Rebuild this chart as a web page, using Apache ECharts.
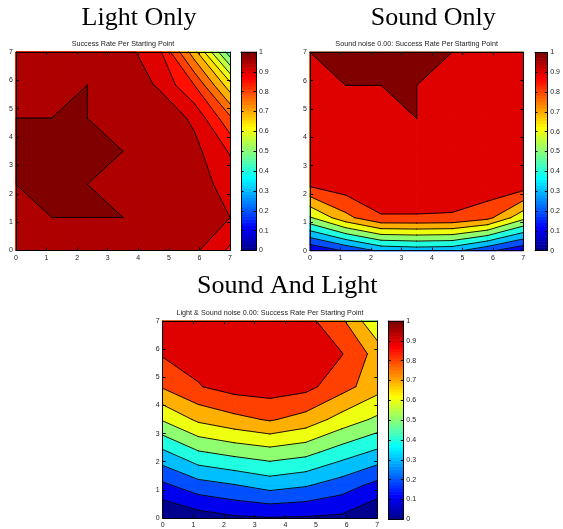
<!DOCTYPE html>
<html><head><meta charset="utf-8">
<script src="https://cdn.jsdelivr.net/npm/echarts@6/dist/echarts.min.js"></script>
<style>html,body{margin:0;padding:0;background:#fff}#c{width:563px;height:529px}</style>
</head><body><div id="c"></div>
<script>
// grid sample positions (x and y), 7 samples spanning 0..7
const xGrid = [0, 1.1667, 2.3333, 3.5, 4.6667, 5.8333, 7];
const yGrid = [0, 1.1667, 2.3333, 3.5, 4.6667, 5.8333, 7];
const axisTicks = [0, 1, 2, 3, 4, 5, 6, 7];
const colorbarTicks = [0, 0.1, 0.2, 0.3, 0.4, 0.5, 0.6, 0.7, 0.8, 0.9, 1];

// success rate per starting point, rows from y=0 (bottom) to y=7 (top)
const lightOnly = [
  [0.97, 0.98, 0.98, 0.98, 0.97, 0.96, 0.89],
  [0.98, 1, 1, 1, 0.98, 0.97, 0.95],
  [1, 1, 1, 0.98, 0.98, 0.973, 0.93],
  [1, 1, 1, 1, 0.98, 0.965, 0.895],
  [1, 1, 1, 0.98, 0.985, 0.94, 0.81],
  [0.98, 0.98, 1, 0.98, 0.945, 0.85, 0.67],
  [0.97, 0.97, 0.97, 0.97, 0.915, 0.72, 0.47]
];
const soundOnly = [
  [0.11, 0.21, 0.32, 0.34, 0.33, 0.22, 0.12],
  [0.59, 0.77, 0.89, 0.89, 0.885, 0.83, 0.63],
  [0.92, 0.96, 0.98, 0.98, 0.98, 0.97, 0.96],
  [0.95, 0.97, 0.98, 0.98, 0.98, 0.97, 0.95],
  [0.96, 0.97, 0.98, 1, 0.98, 1, 0.96],
  [0.97, 1, 1, 1, 0.98, 0.97, 0.96],
  [1, 1, 1, 1, 1, 0.98, 0.97]
];
const soundAndLight = [
  [0.0, 0.05, 0.085, 0.095, 0.09, 0.08, 0.0],
  [0.18, 0.26, 0.295, 0.34, 0.31, 0.25, 0.17],
  [0.38, 0.49, 0.53, 0.56, 0.53, 0.45, 0.38],
  [0.61, 0.72, 0.77, 0.81, 0.76, 0.66, 0.58],
  [0.81, 0.895, 0.94, 0.95, 0.93, 0.84, 0.74],
  [0.91, 0.93, 0.95, 0.96, 0.94, 0.905, 0.76],
  [0.93, 0.94, 0.95, 0.95, 0.934, 0.82, 0.61]
];
const lightLevels = [0.45, 0.5, 0.55, 0.6, 0.65, 0.7, 0.75, 0.8, 0.85, 0.9, 0.95, 1];
const soundLevels = [0, 0.1, 0.2, 0.3, 0.4, 0.5, 0.6, 0.7, 0.8, 0.9, 1];
const bothLevels = [0, 0.1, 0.2, 0.3, 0.4, 0.5, 0.6, 0.7, 0.8, 0.9, 1];
const panelTitles = ['Light Only', 'Sound Only', 'Sound And Light'];
const panelSubtitles = [
  'Success Rate Per Starting Point',
  'Sound noise 0.00: Success Rate Per Starting Point',
  'Light & Sound noise 0.00: Success Rate Per Starting Point'
];

// MATLAB jet(64) colormap row k (1..64)
function jet64(k) {
  const u = i => (i < 1 || i > 47) ? 0 : (i <= 16 ? i / 16 : (i <= 31 ? 1 : (48 - i) / 16));
  const c = [u(k - 24), u(k - 8), u(k + 8)].map(v => Math.round(v * 255));
  return 'rgb(' + c.join(',') + ')';
}
function levelColor(L) {
  const k = Math.min(64, Math.max(1, Math.floor(L * 64 + 1e-9) + 1));
  return jet64(k);
}

// filled contour shapes (marching squares with linear interpolation)
function contourShapes(z, levels) {
  const fills = [], lines = [];
  levels.forEach(L => {
    const color = levelColor(L);
    for (let j = 0; j < yGrid.length - 1; j++) {
      for (let i = 0; i < xGrid.length - 1; i++) {
        const c = [[i, j], [i + 1, j], [i + 1, j + 1], [i, j + 1]].map(([a, b]) => ({ x: xGrid[a], y: yGrid[b], v: z[b][a] }));
        const pts = [], exits = [];
        for (let k = 0; k < 4; k++) {
          const p = c[k], q = c[(k + 1) % 4];
          const pin = p.v >= L, qin = q.v >= L;
          if (pin) pts.push([p.x, p.y]);
          if (pin !== qin) {
            const t = (L - p.v) / (q.v - p.v);
            pts.push([p.x + t * (q.x - p.x), p.y + t * (q.y - p.y)]);
            if (pin) exits.push(pts.length - 1);
          }
        }
        if (pts.length >= 3) fills.push({ color, pts });
        exits.forEach(e => lines.push([pts[e], pts[(e + 1) % pts.length]]));
      }
    }
  });
  return { fills, lines };
}

const panels = [
  { z: lightOnly, levels: lightLevels, main: { left: 16, top: 52, width: 214, height: 198.5 }, bar: { left: 241, top: 52, width: 15, height: 198.5 }, tx: 139, ty: 18, sy: 44.5 },
  { z: soundOnly, levels: soundLevels, main: { left: 310, top: 52.3, width: 213.3, height: 198.4 }, bar: { left: 535, top: 52.3, width: 15, height: 198.4 }, tx: 433.3, ty: 18, sy: 44.5 },
  { z: soundAndLight, levels: bothLevels, main: { left: 162.7, top: 321, width: 214.6, height: 198.3 }, bar: { left: 388.3, top: 321, width: 15, height: 198.3 }, tx: 287.2, ty: 286.5, sy: 312.8 }
];

const grids = [], xAxes = [], yAxes = [], series = [], graphics = [];
const lineStyle = { color: '#000', width: 1 };
const labelStyle = { fontSize: 7, color: '#222', fontFamily: 'Liberation Sans' };

panels.forEach((p, pi) => {
  const gm = grids.length; grids.push(Object.assign({}, p.main));
  const gb = grids.length; grids.push(Object.assign({}, p.bar));
  const base = { type: 'value', min: 0, max: 7, interval: 1, z: 10, splitLine: { show: false },
    axisLine: { show: true, onZero: false, lineStyle }, axisTick: { show: true, inside: true, length: 3, lineStyle } };
  const xi = xAxes.length;
  xAxes.push(Object.assign({}, base, { gridIndex: gm, position: 'bottom', axisLabel: Object.assign({ margin: 4 }, labelStyle) }));
  xAxes.push(Object.assign({}, base, { gridIndex: gm, position: 'top', axisLabel: { show: false } }));
  const yi = yAxes.length;
  yAxes.push(Object.assign({}, base, { gridIndex: gm, position: 'left', axisLabel: Object.assign({ margin: 3 }, labelStyle) }));
  yAxes.push(Object.assign({}, base, { gridIndex: gm, position: 'right', axisLabel: { show: false } }));

  const shapes = contourShapes(p.z, p.levels);
  series.push({
    type: 'custom', xAxisIndex: xi, yAxisIndex: yi, silent: true, animation: false,
    data: [[3.5, 3.5]],
    renderItem: (params, api) => {
      const children = [];
      shapes.fills.forEach(f => children.push({ type: 'polygon', shape: { points: f.pts.map(pt => api.coord(pt)) },
        style: { fill: f.color, stroke: f.color, lineWidth: 0.7 } }));
      shapes.lines.forEach(s => children.push({ type: 'polyline', shape: { points: s.map(pt => api.coord(pt)) },
        style: { stroke: '#000', lineWidth: 0.9, fill: null, lineCap: 'round' } }));
      return { type: 'group', children };
    }
  });

  // colorbar
  const bx = xAxes.length;
  const cbX = { type: 'value', min: 0, max: 1, z: 10, splitLine: { show: false }, axisLine: { show: true, onZero: false, lineStyle },
    axisTick: { show: false }, axisLabel: { show: false } };
  xAxes.push(Object.assign({}, cbX, { gridIndex: gb, position: 'bottom' }));
  xAxes.push(Object.assign({}, cbX, { gridIndex: gb, position: 'top' }));
  const by = yAxes.length;
  const cbY = { type: 'value', min: colorbarTicks[0], max: colorbarTicks[colorbarTicks.length - 1], interval: colorbarTicks[1] - colorbarTicks[0], z: 10,
    splitLine: { show: false }, axisLine: { show: true, onZero: false, lineStyle }, axisTick: { show: true, inside: true, length: 2.5, lineStyle } };
  yAxes.push(Object.assign({}, cbY, { gridIndex: gb, position: 'right',
    axisLabel: Object.assign({ margin: 3, formatter: v => String(+(+v).toFixed(1)) }, labelStyle) }));
  yAxes.push(Object.assign({}, cbY, { gridIndex: gb, position: 'left', axisLabel: { show: false } }));
  const cmap = [];
  for (let k = 1; k <= 64; k++) cmap.push([0, (k - 1) / 64, k]);
  series.push({
    type: 'custom', xAxisIndex: bx, yAxisIndex: by, silent: true, animation: false, data: cmap,
    renderItem: (params, api) => {
      const k = api.value(2);
      const a = api.coord([0, (k - 1) / 64]), b = api.coord([1, k / 64]);
      return { type: 'rect', shape: { x: a[0], y: b[1] - 0.3, width: b[0] - a[0], height: a[1] - b[1] + 0.6 }, style: { fill: jet64(k) } };
    }
  });

  graphics.push({ type: 'text', x: p.tx, y: p.ty, silent: true,
    style: { text: panelTitles[pi], font: '26px "Liberation Serif", "Times New Roman", serif', fill: '#000', textAlign: 'center', textVerticalAlign: 'middle' } });
  graphics.push({ type: 'text', x: p.main.left + p.main.width / 2, y: p.sy, silent: true,
    style: { text: panelSubtitles[pi], font: '7.2px "Liberation Sans", Arial, sans-serif', fill: '#222', textAlign: 'center', textVerticalAlign: 'middle' } });
});

const chart = echarts.init(document.getElementById('c'), null, { renderer: 'canvas' });
chart.setOption({
  animation: false,
  backgroundColor: '#fff',
  grid: grids, xAxis: xAxes, yAxis: yAxes, series, graphic: graphics
});
</script>
</body></html>
